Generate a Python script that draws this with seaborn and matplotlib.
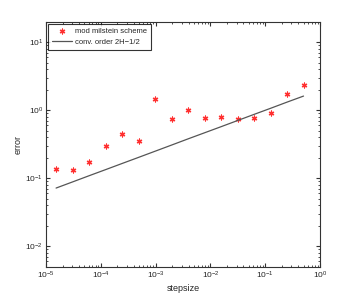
import seaborn as sns
import matplotlib.pyplot as plt
import pandas as pd

# Schrittweiten 2^-16 ... 2^-1
stepsize = [1.526e-5, 3.052e-5, 6.104e-5, 1.221e-4, 2.441e-4, 4.883e-4, 9.766e-4, 1.953e-3,
            3.906e-3, 7.813e-3, 1.5625e-2, 3.125e-2, 6.25e-2, 0.125, 0.25, 0.5]
# Fehler des modifizierten Milstein-Verfahrens
milstein_error = [0.138, 0.132, 0.171, 0.298, 0.453, 0.349, 1.45, 0.745,
                  1.02, 0.77, 0.79, 0.74, 0.77, 0.90, 1.74, 2.34]
# Referenzlinie Konvergenzordnung 2H-1/2
ref_error = [0.0718, 0.0884, 0.109, 0.134, 0.165, 0.203, 0.250, 0.308,
             0.380, 0.467, 0.574, 0.707, 0.871, 1.07, 1.32, 1.62]

df = pd.DataFrame({'stepsize': stepsize, 'error': milstein_error, 'ref': ref_error})

sns.set_style('ticks')
plt.rcParams['font.family'] = ['Liberation Sans', 'DejaVu Sans']

fig = plt.figure(figsize=(3.54, 3.0), dpi=100)
ax = fig.add_axes([0.130, 0.111, 0.774, 0.816])

sns.scatterplot(x='stepsize', y='error', data=df, ax=ax, marker=(6, 2, 0), s=12,
                color='#ff3030', linewidth=0.9, edgecolor='#ff3030', label='mod milstein scheme')
sns.lineplot(x='stepsize', y='ref', data=df, ax=ax, color='#555555', linewidth=0.9,
             label='conv. order 2H\u22121/2')

ax.set_xscale('log')
ax.set_yscale('log')
ax.set_xlim(1e-5, 1)
ax.set_ylim(0.005, 20)
ax.set_xlabel('stepsize', fontsize=6.5, labelpad=2)
ax.set_ylabel('error', fontsize=6.5, labelpad=2)

for side in ax.spines.values():
    side.set_color('#333333')
    side.set_linewidth(0.8)
ax.tick_params(which='both', direction='in', top=True, right=True, labelsize=6, color='#333333', pad=2)
ax.tick_params(which='major', length=3)
ax.tick_params(which='minor', length=1.5)

leg = ax.legend(loc='upper left', fontsize=5.5, frameon=True, fancybox=False,
                edgecolor='black', borderpad=0.45, handlelength=2.6, handletextpad=0.5,
                borderaxespad=0.3)
leg.get_frame().set_linewidth(0.8)

plt.savefig('out.png', dpi=100)
